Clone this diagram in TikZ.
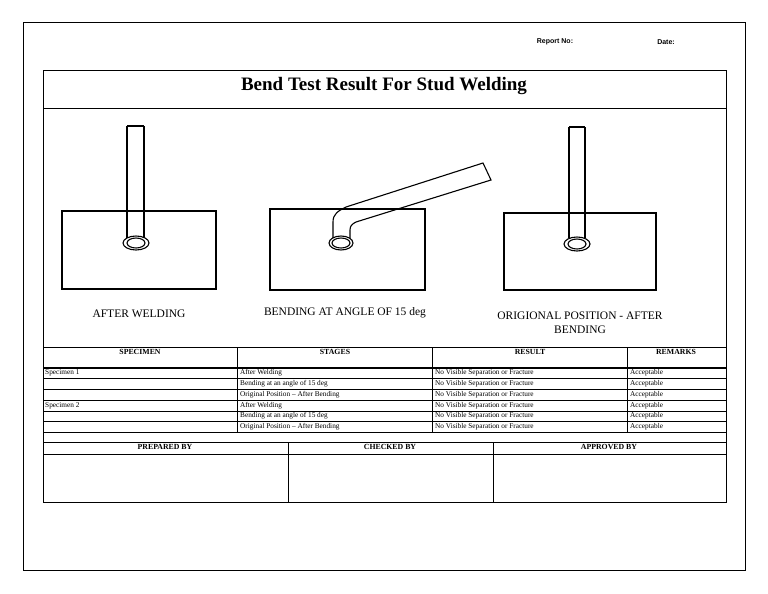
\documentclass[tikz,border=0pt]{standalone}
\usepackage{fontspec}
\setmainfont{Liberation Serif}
\newfontfamily\hdr{Liberation Sans}
\begin{document}
\begin{tikzpicture}[x=1pt,y=-1pt,
  ln/.style={draw=black,line width=0.6pt},
  thk/.style={draw=black,line width=1.1pt},
  cell/.style={font=\fontsize{7.3}{8}\selectfont,anchor=west,inner sep=0pt},
  hd/.style={font=\bfseries\fontsize{7.8}{9}\selectfont,inner sep=0pt},
  lab/.style={font=\fontsize{11.5}{14}\selectfont,inner sep=0pt,align=center}]
\useasboundingbox[fill=white] (0,0) rectangle (768,594);
\draw[ln] (23,22) rectangle (745,570);
\node[font=\hdr\bfseries\fontsize{7}{8}\selectfont] (rep) at (555,42) {Report No:};
\node[font=\hdr\bfseries\fontsize{7}{8}\selectfont] (dat) at (666,42) {Date:};
% main box
\draw[ln] (43,70) rectangle (726,502);
\draw[ln] (43,108) -- (726,108);
\node[font=\bfseries\fontsize{19}{21}\selectfont] (title) at (384,86) {Bend Test Result For Stud Welding};
% drawings
\draw[thk] (62,211) rectangle (216,289);
\draw[thk] (127,126) -- (127,238) (144,126) -- (144,238) (127,126) -- (144,126);
\draw[thk] (136,243) ellipse (13 and 7);
\draw[thk] (136,243) ellipse (9 and 5);
\draw[thk] (270,209) rectangle (425,290);
\draw[thk] (333,238) -- (333,222) .. controls (333,214) and (338,211) .. (346,207) -- (483,163) -- (491,180) -- (356,222) .. controls (352,224) and (350,226) .. (350,230) -- (350,238);
\draw[thk] (341,243) ellipse (12 and 7);
\draw[thk] (341,243) ellipse (9 and 5);
\draw[thk] (504,213) rectangle (656,290);
\draw[thk] (569,127) -- (569,238) (585,127) -- (585,238) (569,127) -- (585,127);
\draw[thk] (577,244) ellipse (13 and 7);
\draw[thk] (577,244) ellipse (9 and 5);
\node[lab] (l1) at (139,314) {AFTER WELDING};
\node[lab] (l2) at (345,313) {BENDING AT ANGLE OF 15 deg};
\node[lab] (l3) at (580,323) {ORIGIONAL POSITION - AFTER\\BENDING};
% table
\draw[ln] (43,347) -- (726,347);
\foreach \y in {367,378,389,400,411,421,432,442,454} \draw[ln] (43,\y) -- (726,\y);
\draw[ln] (43,368.5) -- (726,368.5);
\foreach \x in {237,432,627} \draw[ln] (\x,347) -- (\x,432);
\foreach \x in {288,493} \draw[ln] (\x,442) -- (\x,502);
\node[hd] (h1) at (140,352) {SPECIMEN};
\node[hd] (h2) at (335,352) {STAGES};
\node[hd] (h3) at (530,352) {RESULT};
\node[hd] (h4) at (676,352) {REMARKS};
\foreach \y/\a/\b [count=\i] in {373/Specimen 1/After Welding,384//Bending at an angle of 15 deg,395//Original Position -- After Bending,406/Specimen 2/After Welding,416//Bending at an angle of 15 deg,427//Original Position -- After Bending}{
  \node[cell] (a\i) at (45,\y) {\a};
  \node[cell] (b\i) at (240,\y) {\b};
  \node[cell] (c\i) at (435,\y) {No Visible Separation or Fracture};
  \node[cell] (d\i) at (630,\y) {Acceptable};
}
\node[hd] (p1) at (165,447) {PREPARED BY};
\node[hd] (p2) at (390,447) {CHECKED BY};
\node[hd] (p3) at (609,447) {APPROVED BY};
\end{tikzpicture}
\end{document}
